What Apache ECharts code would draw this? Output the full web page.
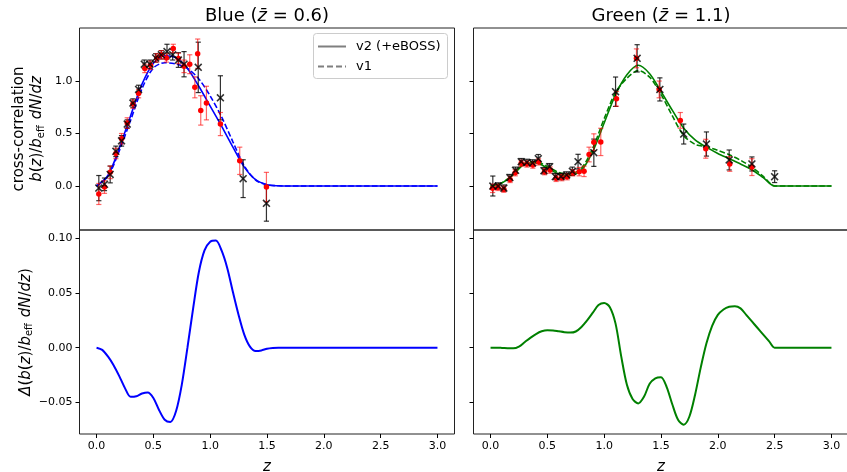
<!DOCTYPE html>
<html><head><meta charset="utf-8">
<script src="https://cdn.jsdelivr.net/npm/echarts@6/dist/echarts.min.js"></script>
<style>html,body{margin:0;padding:0;background:#fff}#c{width:847px;height:472px}</style>
</head><body><div id="c"></div>
<script>
const FONT = 'DejaVu Sans';
const xTicks = [0, 0.5, 1.0, 1.5, 2.0, 2.5, 3.0];
const topTicks = [0, 0.5, 1.0];
const botTicks = [-0.05, 0, 0.05, 0.10];

// model curves (top panels)
const modelZ = [0,0.1,0.2,0.3,0.4,0.5,0.6,0.7,0.8,0.9,1.0,1.1,1.2,1.3,1.4,1.5,1.6,1.7,1.8,1.9,2.0,2.1,2.2,2.3,2.4,2.5,2.6,2.7,2.8,2.9,3.0];
const blueV2 = [0,0.10,0.36,0.67,0.97,1.17,1.24,1.22,1.12,0.95,0.76,0.57,0.37,0.18,0.06,0.012,0.002,0,0,0,0,0,0,0,0,0,0,0,0,0,0];
const blueV1 = [0,0.092,0.335,0.627,0.927,1.124,1.174,1.162,1.12,1.02,0.858,0.659,0.421,0.192,0.057,0.011,0.002,0,0,0,0,0,0,0,0,0,0,0,0,0,0];
const greenV2 = [0,0.03,0.11,0.21,0.22,0.17,0.115,0.10,0.15,0.33,0.60,0.87,1.06,1.15,1.07,0.90,0.72,0.55,0.44,0.37,0.31,0.26,0.21,0.155,0.08,0,0,0,0,0,0];
const greenV1 = [0,0.03,0.109,0.215,0.2325,0.186,0.13,0.114,0.169,0.362,0.641,0.892,1.026,1.099,1.037,0.873,0.668,0.48,0.397,0.374,0.34,0.298,0.245,0.179,0.092,0,0,0,0,0,0];

// difference curves (bottom panels)
const blueDeltaZ = [0,0.05,0.1,0.15,0.2,0.25,0.3,0.35,0.4,0.45,0.5,0.55,0.6,0.65,0.7,0.75,0.8,0.85,0.9,0.95,1.0,1.05,1.1,1.15,1.2,1.25,1.3,1.35,1.4,1.45,1.5,1.55,1.6,1.7,1.8,1.9,2.0,2.1,2.2,2.3,2.4,2.5,2.6,2.7,2.8,2.9,3.0];
const blueDelta = [0,-0.002,-0.008,-0.016,-0.026,-0.037,-0.045,-0.0445,-0.042,-0.041,-0.046,-0.057,-0.066,-0.068,-0.058,-0.034,0.0,0.036,0.069,0.089,0.097,0.098,0.089,0.073,0.051,0.030,0.012,0.001,-0.003,-0.0025,-0.001,-0.0003,0,0,0,0,0,0,0,0,0,0,0,0,0,0,0];
const greenDeltaZ = [0,0.05,0.1,0.15,0.2,0.25,0.3,0.35,0.4,0.45,0.5,0.55,0.6,0.65,0.7,0.75,0.8,0.85,0.9,0.95,1.0,1.05,1.1,1.15,1.2,1.25,1.3,1.35,1.4,1.45,1.5,1.55,1.6,1.65,1.7,1.75,1.8,1.85,1.9,1.95,2.0,2.05,2.1,2.15,2.2,2.25,2.3,2.35,2.4,2.45,2.5,2.6,2.7,2.8,2.9,3.0];
const greenDelta = [0,0,-0.0002,-0.0005,-0.0006,0.001,0.005,0.009,0.0125,0.015,0.016,0.0158,0.015,0.0142,0.0138,0.0148,0.019,0.025,0.032,0.039,0.041,0.037,0.022,-0.008,-0.034,-0.047,-0.051,-0.045,-0.033,-0.028,-0.027,-0.036,-0.052,-0.066,-0.0705,-0.063,-0.043,-0.018,0.004,0.020,0.030,0.035,0.0375,0.038,0.036,0.030,0.024,0.018,0.012,0.006,0,0,0,0,0,0];

// measurements: blue, v2 (red) and v1 (black)
const blueRedZ = [0.02,0.07,0.12,0.17,0.22,0.27,0.32,0.37,0.425,0.475,0.53,0.57,0.615,0.675,0.72,0.77,0.82,0.865,0.89,0.917,0.967,1.09,1.26,1.495];
const blueRedV = [-0.076,-0.01,0.13,0.31,0.45,0.60,0.78,0.88,1.12,1.15,1.22,1.25,1.22,1.31,1.215,1.14,1.16,0.94,1.26,0.72,0.79,0.59,0.24,-0.01];
const blueRedE = [0.10,0.06,0.06,0.05,0.05,0.05,0.04,0.04,0.04,0.04,0.04,0.04,0.04,0.04,0.05,0.06,0.09,0.10,0.14,0.14,0.16,0.11,0.13,0.14];
const blueBlkZ = [0.02,0.07,0.12,0.17,0.22,0.27,0.32,0.37,0.42,0.47,0.52,0.57,0.62,0.67,0.72,0.77,0.895,1.09,1.29,1.495];
const blueBlkV = [-0.02,0.016,0.11,0.33,0.43,0.59,0.79,0.92,1.16,1.16,1.22,1.25,1.28,1.25,1.20,1.16,1.13,0.84,0.07,-0.165];
const blueBlkE = [0.12,0.06,0.08,0.05,0.05,0.04,0.04,0.04,0.04,0.04,0.04,0.04,0.07,0.05,0.07,0.12,0.24,0.21,0.18,0.17];

// measurements: green
const greenRedZ = [0.018,0.064,0.117,0.172,0.217,0.27,0.32,0.372,0.422,0.475,0.524,0.577,0.627,0.674,0.724,0.78,0.823,0.867,0.909,0.97,1.108,1.284,1.484,1.67,1.894,2.105,2.30];
const greenRedV = [-0.022,-0.013,-0.03,0.063,0.127,0.216,0.21,0.20,0.23,0.137,0.152,0.073,0.08,0.089,0.127,0.137,0.14,0.30,0.417,0.42,0.83,1.216,0.92,0.625,0.355,0.21,0.18];
const greenRedE = [0.04,0.03,0.03,0.03,0.03,0.03,0.03,0.03,0.03,0.03,0.03,0.03,0.03,0.03,0.03,0.04,0.05,0.07,0.08,0.13,0.07,0.09,0.08,0.075,0.09,0.07,0.08];
const greenBlkZ = [0.02,0.067,0.117,0.17,0.22,0.27,0.32,0.37,0.42,0.47,0.52,0.57,0.62,0.67,0.72,0.77,0.909,1.10,1.29,1.49,1.70,1.90,2.10,2.30,2.50];
const greenBlkV = [0.0,0.0,-0.02,0.08,0.15,0.232,0.225,0.22,0.26,0.146,0.184,0.09,0.09,0.105,0.14,0.232,0.317,0.898,1.216,0.92,0.495,0.40,0.248,0.21,0.089];
const greenBlkE = [0.095,0.03,0.03,0.03,0.03,0.03,0.03,0.03,0.04,0.03,0.03,0.03,0.03,0.03,0.04,0.07,0.13,0.14,0.13,0.11,0.095,0.115,0.095,0.067,0.056];

const legendNames = ['v2 (+eBOSS)', 'v1'];
const titles = ['Blue ({i|z\u0304} = 0.6)', 'Green ({i|z\u0304} = 1.1)'];

const BLUE = '#0000ff', GREEN = '#008000';
const XPATH = 'path://M0,1.4L1.4,0L5,3.6L8.6,0L10,1.4L6.4,5L10,8.6L8.6,10L5,6.4L1.4,10L0,8.6L3.6,5Z';

const pairs = (xs, ys) => xs.map((x, i) => [x, ys[i]]);
const triples = (xs, ys, es) => xs.map((x, i) => [x, ys[i], es[i]]);
const minus = s => s.replace('-', '\u2212');

const rich = {
  i: {fontStyle: 'italic', fontFamily: FONT, fontSize: 15, color: '#000'},
  s: {fontFamily: FONT, fontSize: 10, color: '#000', verticalAlign: 'bottom', lineHeight: 12, padding: [0, 1, 0, 0]}
};

function grid(left, top, height) {
  return {left: left, top: top, width: 375, height: height, show: true, borderColor: '#222', borderWidth: 1,
          backgroundColor: 'transparent', containLabel: false, outerBoundsMode: 'none'};
}
function xAx(gi, labels) {
  return {type: 'value', gridIndex: gi, min: -0.15, max: 3.15, splitLine: {show: false},
    axisLine: {show: false, onZero: false},
    axisTick: {show: labels, length: 4, customValues: xTicks, lineStyle: {color: '#000', width: 1}},
    axisLabel: {show: labels, customValues: xTicks, formatter: v => v.toFixed(1), color: '#000', fontFamily: FONT, fontSize: 11, margin: 7},
    name: labels ? '{i|z}' : '', nameLocation: 'middle', nameGap: 26,
    nameTextStyle: {rich: rich, fontFamily: FONT, fontSize: 15, color: '#000'}};
}
function yAx(gi, min, max, ticks, digits, labels, name, gap) {
  return {type: 'value', gridIndex: gi, min: min, max: max, splitLine: {show: false},
    axisLine: {show: false, onZero: false},
    axisTick: {show: true, length: 4, customValues: ticks, lineStyle: {color: '#000', width: 1}},
    axisLabel: {show: labels, customValues: ticks, formatter: v => minus(v.toFixed(digits)), color: '#000', fontFamily: FONT, fontSize: 11, margin: 7},
    name: name || '', nameLocation: 'middle', nameRotate: 90, nameGap: gap || 0,
    nameTextStyle: {rich: rich, fontFamily: FONT, fontSize: 15, color: '#000', lineHeight: 18, align: 'center'}};
}

function lineS(gi, xs, ys, color, dashed, width) {
  return {type: 'line', xAxisIndex: gi, yAxisIndex: gi, data: pairs(xs, ys), symbol: 'none', showSymbol: false,
    smooth: 0.3, lineStyle: {color: color, width: width, type: dashed ? [5.5, 2.4] : 'solid'}, z: 2, silent: true};
}
function errS(gi, xs, ys, es, color, z) {
  return {type: 'custom', xAxisIndex: gi, yAxisIndex: gi, data: triples(xs, ys, es), encode: {x: 0, y: 1}, z: z, silent: true,
    renderItem: (params, api) => {
      const x = api.value(0), y = api.value(1), e = api.value(2);
      const lo = api.coord([x, y - e]), hi = api.coord([x, y + e]);
      const cw = 2.6, st = {stroke: color, lineWidth: 1.2};
      return {type: 'group', children: [
        {type: 'line', shape: {x1: lo[0], y1: lo[1], x2: hi[0], y2: hi[1]}, style: st},
        {type: 'line', shape: {x1: lo[0] - cw, y1: lo[1], x2: lo[0] + cw, y2: lo[1]}, style: st},
        {type: 'line', shape: {x1: hi[0] - cw, y1: hi[1], x2: hi[0] + cw, y2: hi[1]}, style: st}
      ]};
    }};
}
function dotS(gi, xs, ys) {
  return {type: 'scatter', xAxisIndex: gi, yAxisIndex: gi, data: pairs(xs, ys), symbol: 'circle', symbolSize: 5.5,
    itemStyle: {color: '#ff0000', opacity: 1}, z: 5, silent: true};
}
function crossS(gi, xs, ys) {
  return {type: 'scatter', xAxisIndex: gi, yAxisIndex: gi, data: pairs(xs, ys), symbol: XPATH, symbolSize: 8,
    itemStyle: {color: '#000'}, z: 6, silent: true};
}

const topName = 'cross-correlation\n{i|b}({i|z})/{i|b}{s|eff} {i|dN}/{i|dz}';
const botName = '{i|\u0394}({i|b}({i|z})/{i|b}{s|eff} {i|dN}/{i|dz})';

const titleRich = {i: {fontStyle: 'italic', fontFamily: FONT, fontSize: 18, fill: '#000'}};
const legendTxt = {fontFamily: FONT, fontSize: 13, fill: '#000', verticalAlign: 'middle', align: 'left'};

const chart = echarts.init(document.getElementById('c'), null, {renderer: 'canvas'});
chart.setOption({
  animation: false,
  backgroundColor: '#fff',
  textStyle: {fontFamily: FONT},
  grid: [grid(79.5, 28, 202), grid(79.5, 230, 204), grid(473.5, 28, 202), grid(473.5, 230, 204)],
  xAxis: [xAx(0, false), xAx(1, true), xAx(2, false), xAx(3, true)],
  yAxis: [
    yAx(0, -0.419, 1.505, topTicks, 1, true, topName, 33),
    yAx(1, -0.079, 0.1077, botTicks, 2, true, botName, 29),
    yAx(2, -0.419, 1.505, topTicks, 1, false),
    yAx(3, -0.079, 0.1077, botTicks, 2, false)
  ],
  graphic: [
    {type: 'text', x: 267, y: 16, style: {text: titles[0], align: 'center', verticalAlign: 'middle',
      fontFamily: FONT, fontSize: 18, fill: '#000', rich: titleRich}},
    {type: 'text', x: 661, y: 16, style: {text: titles[1], align: 'center', verticalAlign: 'middle',
      fontFamily: FONT, fontSize: 18, fill: '#000', rich: titleRich}},
    {type: 'group', z: 100, children: [
      {type: 'rect', shape: {x: 313.5, y: 33.5, width: 134, height: 45, r: 3}, style: {fill: 'rgba(255,255,255,0.8)', stroke: '#cccccc', lineWidth: 1}, z: 100},
      {type: 'line', shape: {x1: 318, y1: 46.5, x2: 346, y2: 46.5}, style: {stroke: '#7f7f7f', lineWidth: 2}, z: 101},
      {type: 'line', shape: {x1: 318, y1: 66.5, x2: 346, y2: 66.5}, style: {stroke: '#7f7f7f', lineWidth: 2, lineDash: [6, 3]}, z: 101},
      {type: 'text', x: 356, y: 46.5, style: Object.assign({text: legendNames[0]}, legendTxt), z: 101},
      {type: 'text', x: 356, y: 66.5, style: Object.assign({text: legendNames[1]}, legendTxt), z: 101}
    ]}
  ],
  series: [
    lineS(0, modelZ, blueV2, BLUE, false, 1.6),
    lineS(0, modelZ, blueV1, BLUE, true, 1.6),
    errS(0, blueBlkZ, blueBlkV, blueBlkE, 'rgba(0,0,0,0.8)', 3),
    errS(0, blueRedZ, blueRedV, blueRedE, 'rgba(255,0,0,0.6)', 4),
    dotS(0, blueRedZ, blueRedV),
    crossS(0, blueBlkZ, blueBlkV),
    lineS(1, blueDeltaZ, blueDelta, BLUE, false, 2),
    lineS(2, modelZ, greenV2, GREEN, false, 1.6),
    lineS(2, modelZ, greenV1, GREEN, true, 1.6),
    errS(2, greenBlkZ, greenBlkV, greenBlkE, 'rgba(0,0,0,0.8)', 3),
    errS(2, greenRedZ, greenRedV, greenRedE, 'rgba(255,0,0,0.6)', 4),
    dotS(2, greenRedZ, greenRedV),
    crossS(2, greenBlkZ, greenBlkV),
    lineS(3, greenDeltaZ, greenDelta, GREEN, false, 2)
  ]
});
</script></body></html>
